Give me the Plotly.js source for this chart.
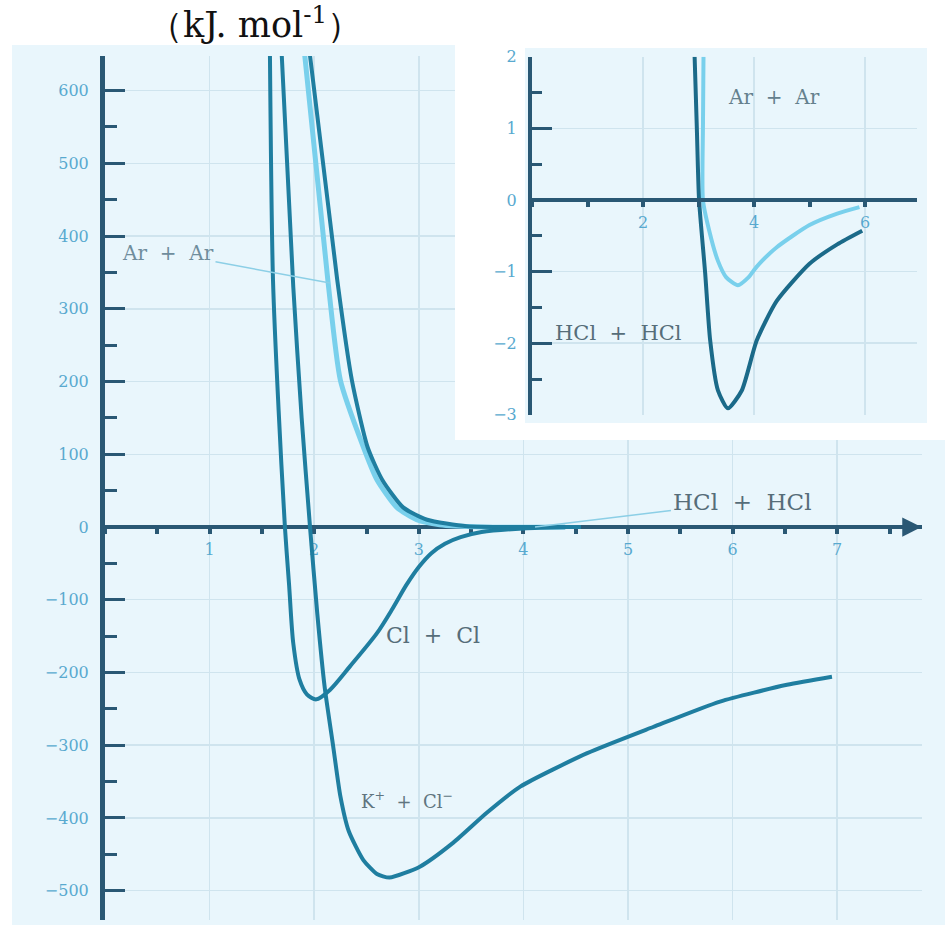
<!DOCTYPE html>
<html>
<head>
<meta charset="utf-8">
<script src="https://cdn.plot.ly/plotly-3.0.1.min.js"></script>
<style>
html,body{margin:0;padding:0;background:#ffffff;}
#chart{width:951px;height:927px;}
</style>
</head>
<body>
<div id="chart"></div>
<script>
// ---------------- DATA ----------------
// Main chart: internuclear distance (Å) vs potential energy (kJ/mol)
const clClX = [1.577, 1.606, 1.66, 1.72, 1.76, 1.80, 1.86, 1.93, 2.02, 2.15, 2.34, 2.60, 2.75, 2.88, 3.00, 3.12, 3.25, 3.40, 3.60, 4.00, 4.40];
const clClY = [648, 340, 160, 0, -80, -160, -210, -230, -237, -224, -192, -146, -112, -80, -55, -36, -23, -14, -7, -2, -0.5];

const kClX = [1.69, 1.80, 1.88, 1.96, 2.03, 2.10, 2.18, 2.25, 2.33, 2.47, 2.60, 2.72, 3.01, 3.33, 3.65, 3.97, 4.61, 5.24, 5.88, 6.52, 6.95];
const kClY = [648, 330, 150, 0, -120, -220, -300, -370, -418, -458, -477, -482, -467, -434, -393, -357, -311, -275, -240, -217, -206];

const arMainX = [1.91, 2.13, 2.25, 2.47, 2.60, 2.79, 2.98, 3.20, 3.60, 4.40];
const arMainY = [648, 340, 202, 110, 65, 27, 10, 3, 0, 0];

const hclMainX = [1.96, 2.22, 2.36, 2.51, 2.65, 2.85, 3.08, 3.46, 4.00, 4.55];
const hclMainY = [648, 340, 202, 110, 65, 27, 10, 1, 0, 0];

// Inset chart (kJ/mol)
const arInsetX = [3.09, 3.08, 3.08, 3.20, 3.35, 3.50, 3.71, 3.90, 4.05, 4.41, 5.00, 5.50, 5.90];
const arInsetY = [2.0, 1.0, 0, -0.45, -0.85, -1.08, -1.19, -1.08, -0.93, -0.66, -0.35, -0.19, -0.10];

const hclInsetX = [2.93, 2.97, 3.01, 3.12, 3.21, 3.35, 3.53, 3.78, 4.05, 4.41, 5.00, 5.50, 5.95];
const hclInsetY = [2.0, 1.0, 0, -1.02, -1.96, -2.66, -2.91, -2.66, -1.96, -1.41, -0.89, -0.62, -0.43];

// Tick values
const mainXTicks = [1, 2, 3, 4, 5, 6, 7];
const mainYTicks = [600, 500, 400, 300, 200, 100, 0, -100, -200, -300, -400, -500];
const insetXTicks = [2, 4, 6];
const insetYTicks = [2, 1, 0, -1, -2, -3];

// Text
const unitTitle = '（kJ. mol<sup>-1</sup>）';
const mainLabelArAr = 'Ar  +  Ar';
const mainLabelHClHCl = 'HCl  +  HCl';
const mainLabelClCl = 'Cl  +  Cl';
const mainLabelKCl = 'K<sup>+</sup>  +  Cl<sup>−</sup>';
const insetLabelArAr = 'Ar  +  Ar';
const insetLabelHClHCl = 'HCl  +  HCl';

// ---------------- LAYOUT GEOMETRY (pixels) ----------------
const W = 951, H = 927;
const PX = v => v / W;
const PY = v => 1 - v / H;

// main axes
const mX0 = 105, mXs = 104.6, mY0 = 527, mYs = 0.7273;
const mLeft = 105, mRight = 922, mTop = 56, mBottom = 920;
const mXRange = [(mLeft - mX0) / mXs, (mRight - mX0) / mXs];
const mYRange = [(mY0 - mBottom) / mYs, (mY0 - mTop) / mYs];

// inset axes
const iX0 = 532, iXs = 55.5, iY0 = 200, iYs = 71.6;
const iLeft = 532, iRight = 917;
const iYRange = [-3, 2];
const iTop = iY0 - iYRange[1] * iYs, iBottom = iY0 - iYRange[0] * iYs;
const iXRange = [(iLeft - iX0) / iXs, (iRight - iX0) / iXs];

// white surround of the inset
const sLeft = 455, sRight = 951, sTop = 0, sBottom = 440;
const sW = sRight - sLeft, sH = sBottom - sTop;

const dark = '#2a5874';
const curveDark = '#1f7ea0';
const curveDarker = '#1b6a89';
const curveLight = '#79d0ec';
const gridCol = '#cfe4ee';
const tickCol = '#58a9cf';
const labelCol = '#566d79';
const serif = 'DejaVu Serif, Liberation Serif, serif';

const mx = p => (p - mX0) / mXs;
const my = p => (mY0 - p) / mYs;
const ix = p => (p - iX0) / iXs;
const iy = p => (iY0 - p) / iYs;

const traces = [
  {x: arMainX, y: arMainY, xaxis: 'x', yaxis: 'y', mode: 'lines',
   line: {color: curveLight, width: 5, shape: 'spline', smoothing: 0.6}},
  {x: hclMainX, y: hclMainY, xaxis: 'x', yaxis: 'y', mode: 'lines',
   line: {color: curveDark, width: 4, shape: 'spline', smoothing: 0.6}},
  {x: clClX, y: clClY, xaxis: 'x', yaxis: 'y', mode: 'lines',
   line: {color: curveDark, width: 4, shape: 'spline', smoothing: 0.8}},
  {x: kClX, y: kClY, xaxis: 'x', yaxis: 'y', mode: 'lines',
   line: {color: curveDark, width: 4, shape: 'spline', smoothing: 0.6}},
  {x: [], y: [], xaxis: 'x2', yaxis: 'y2', mode: 'lines'},
  {x: arInsetX, y: arInsetY, xaxis: 'x3', yaxis: 'y3', mode: 'lines',
   line: {color: curveLight, width: 4, shape: 'spline', smoothing: 0.6}},
  {x: hclInsetX, y: hclInsetY, xaxis: 'x3', yaxis: 'y3', mode: 'lines',
   line: {color: curveDarker, width: 4, shape: 'spline', smoothing: 0.6}}
];

const tickFont = {family: serif, size: 16, color: tickCol};

const layout = {
  width: W, height: H,
  margin: {l: 0, r: 0, t: 0, b: 0},
  paper_bgcolor: '#ffffff',
  plot_bgcolor: 'rgba(0,0,0,0)',
  showlegend: false,
  hovermode: false,
  dragmode: false,
  title: {
    text: unitTitle,
    xref: 'paper', yref: 'paper',
    x: PX(255), xanchor: 'center',
    y: PY(25), yanchor: 'middle',
    font: {family: serif, size: 35, color: '#111111'}
  },
  xaxis: {
    domain: [PX(mLeft), PX(mRight)], range: mXRange,
    anchor: 'free', position: PY(mY0),
    showline: true, linecolor: dark, linewidth: 4, layer: 'below traces',
    tickmode: 'array', tickvals: mainXTicks, ticktext: mainXTicks.map(String),
    ticks: 'outside', ticklen: 5, tickwidth: 4, tickcolor: dark,
    minor: {tickmode: 'linear', tick0: 0, dtick: 0.5, ticks: 'outside', ticklen: 5, tickwidth: 4, tickcolor: dark, showgrid: false},
    showgrid: true, gridcolor: gridCol, gridwidth: 1.5, zeroline: false,
    tickfont: tickFont, ticklabelstandoff: 2, fixedrange: true
  },
  yaxis: {
    domain: [PY(mBottom), PY(mTop)], range: mYRange, anchor: 'x',
    showline: true, linecolor: dark, linewidth: 5,
    tickmode: 'array', tickvals: mainYTicks, ticktext: mainYTicks.map(v => v < 0 ? '−' + Math.abs(v) : String(v)),
    ticks: 'inside', ticklen: 20, tickwidth: 3, tickcolor: dark,
    minor: {tickmode: 'linear', tick0: 0, dtick: 50, ticks: 'inside', ticklen: 12, tickwidth: 3, tickcolor: dark, showgrid: false},
    showgrid: true, gridcolor: gridCol, gridwidth: 1.5, zeroline: false,
    tickfont: tickFont, ticklabelstandoff: 8, fixedrange: true
  },
  xaxis2: {domain: [PX(sLeft), PX(sRight)], range: [0, 1], anchor: 'y2', visible: false, fixedrange: true},
  yaxis2: {domain: [PY(sBottom), PY(sTop)], range: [0, 1], anchor: 'x2', visible: false, fixedrange: true},
  xaxis3: {
    domain: [PX(iLeft), PX(iRight)], range: iXRange,
    anchor: 'free', position: PY(iY0),
    showline: true, linecolor: dark, linewidth: 4,
    tickmode: 'array', tickvals: insetXTicks, ticktext: insetXTicks.map(String),
    ticks: 'outside', ticklen: 5, tickwidth: 4, tickcolor: dark,
    minor: {tickmode: 'linear', tick0: 0, dtick: 1, ticks: 'outside', ticklen: 5, tickwidth: 4, tickcolor: dark, showgrid: false},
    showgrid: true, gridcolor: gridCol, gridwidth: 1.5, zeroline: false,
    tickfont: tickFont, ticklabelstandoff: 2, fixedrange: true
  },
  yaxis3: {
    domain: [PY(iBottom), PY(iTop)], range: iYRange, anchor: 'x3',
    showline: true, linecolor: dark, linewidth: 4,
    tickmode: 'array', tickvals: insetYTicks, ticktext: insetYTicks.map(v => v < 0 ? '−' + Math.abs(v) : String(v)),
    ticks: 'inside', ticklen: 20, tickwidth: 3, tickcolor: dark,
    minor: {tickmode: 'linear', tick0: 0, dtick: 0.5, ticks: 'inside', ticklen: 10, tickwidth: 3, tickcolor: dark, showgrid: false},
    showgrid: true, gridcolor: gridCol, gridwidth: 1.5, zeroline: false,
    tickfont: tickFont, ticklabelstandoff: 8, fixedrange: true
  },
  shapes: [
    // main light-blue panel
    {type: 'rect', xref: 'paper', yref: 'paper', layer: 'below',
     x0: PX(12), x1: PX(945), y0: PY(925), y1: PY(45),
     fillcolor: '#e9f6fc', line: {width: 0}},
    // white surround of the inset
    {type: 'rect', xref: 'x2', yref: 'y2', layer: 'below',
     x0: -0.01, x1: 1.01, y0: -0.01, y1: 1.01,
     fillcolor: '#ffffff', line: {width: 0}},
    // inset light-blue panel
    {type: 'rect', xref: 'x2', yref: 'y2', layer: 'below',
     x0: (525 - sLeft) / sW, x1: (927 - sLeft) / sW,
     y0: (sBottom - 423) / sH, y1: (sBottom - 48) / sH,
     fillcolor: '#e9f6fc', line: {width: 0}}
  ],
  annotations: [
    // x-axis arrow head
    {xref: 'x', yref: 'y', x: mXRange[1] - 0.005, y: 0, ax: -16, ay: 0, text: '',
     showarrow: true, arrowhead: 2, arrowsize: 1.1, arrowwidth: 3.5, arrowcolor: dark},
    {xref: 'x', yref: 'y', x: mx(330), y: my(283), ax: 168 - 330, ay: 253 - 283,
     text: mainLabelArAr, showarrow: true, arrowhead: 0, arrowwidth: 1.5, arrowcolor: '#8ccfe6',
     font: {family: serif, size: 20, color: '#6f8d9c'}},
    {xref: 'x', yref: 'y', x: mx(535), y: 0, ax: 742 - 535, ay: 502 - 527,
     text: mainLabelHClHCl, showarrow: true, arrowhead: 0, arrowwidth: 1.5, arrowcolor: '#8ccfe6',
     font: {family: serif, size: 23, color: labelCol}},
    {xref: 'x', yref: 'y', x: mx(433), y: my(635), text: mainLabelClCl, showarrow: false,
     font: {family: serif, size: 22, color: labelCol}},
    {xref: 'x', yref: 'y', x: mx(407), y: my(800), text: mainLabelKCl, showarrow: false,
     font: {family: serif, size: 18, color: '#60757f'}},
    {xref: 'x3', yref: 'y3', x: ix(774), y: iy(97), text: insetLabelArAr, showarrow: false,
     font: {family: serif, size: 20, color: '#64808d'}},
    {xref: 'x3', yref: 'y3', x: ix(618), y: iy(333), text: insetLabelHClHCl, showarrow: false,
     font: {family: serif, size: 21, color: labelCol}}
  ]
};

Plotly.newPlot('chart', traces, layout, {staticPlot: true, displayModeBar: false});
</script>
</body>
</html>
